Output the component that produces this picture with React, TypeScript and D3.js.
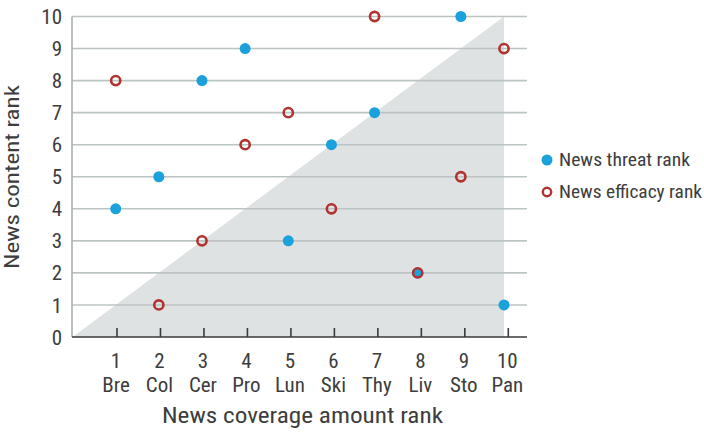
import React from "react";
import * as d3 from "d3";

const categories = ["Bre", "Col", "Cer", "Pro", "Lun", "Ski", "Thy", "Liv", "Sto", "Pan"];
const coverageRank = [1, 2, 3, 4, 5, 6, 7, 8, 9, 10];
const threatRank = [4, 5, 8, 9, 3, 6, 7, 2, 10, 1];
const efficacyRank = [8, 1, 3, 6, 7, 4, 10, 2, 5, 9];
const yTicks = [0, 1, 2, 3, 4, 5, 6, 7, 8, 9, 10];
const legendLabels = ["News threat rank", "News efficacy rank"];

const FONT = "'Roboto Condensed', 'Liberation Sans Narrow', 'Arial Narrow', Roboto, sans-serif";
const BLUE = "#1ba1dc";
const RED = "#b0332f";
const TEXT = "#3d3d3d";

export default function App() {
  const W = 704, H = 445;
  const y = d3.scaleLinear().domain([0, 10]).range([337, 16.5]);
  const tickX = d3.scaleLinear().domain([1, 10]).range([117, 508.3]);
  const px = d3.scaleLinear().domain([1, 10]).range([115.7, 504]);
  const left = 72, right = 527;

  const tri = d3.line<[number, number]>()
    .x((d) => px(d[0]))
    .y((d) => y(d[1]));
  const triPath = tri([[0, 0], [10, 10], [10, 0]]) + "Z";

  return (
    <svg width={W} height={H} style={{ position: "absolute", left: 0, top: 0, background: "#fff" }} fontFamily={FONT}>
      <path d={triPath} fill="#dfe2e2" />
      {yTicks.filter((t) => t > 0).map((t) => (
        <line key={"g" + t} x1={left} x2={right} y1={y(t)} y2={y(t)} stroke="#bcc3c3" strokeWidth={1.6} />
      ))}
      <line x1={left} x2={left} y1={y(10)} y2={y(0)} stroke="#a9b0b0" strokeWidth={1.6} />
      <line x1={left} x2={right} y1={y(0)} y2={y(0)} stroke="#3a3a3a" strokeWidth={1.6} />
      {coverageRank.map((c) => (
        <line key={"t" + c} x1={tickX(c)} x2={tickX(c)} y1={y(0)} y2={y(0) - 9} stroke="#3a3a3a" strokeWidth={1.6} />
      ))}
      {yTicks.map((t) => (
        <text key={"yl" + t} x={62} y={y(t)} dy="0.36em" textAnchor="end" fontSize={21} fill={TEXT}>{t}</text>
      ))}
      {coverageRank.map((c, i) => (
        <g key={"xl" + c}>
          <text x={tickX(c) - 1} y={368} textAnchor="middle" fontSize={21} fill={TEXT}>{c}</text>
          <text x={tickX(c) - 1} y={392} textAnchor="middle" fontSize={21} fill={TEXT}>{categories[i]}</text>
        </g>
      ))}
      <text x={162} y={423} fontSize={22} fill={TEXT} textLength={281} lengthAdjust="spacingAndGlyphs">News coverage amount rank</text>
      <text transform={`translate(19,269) rotate(-90)`} fontSize={21} fill={TEXT} textLength={184} lengthAdjust="spacingAndGlyphs">News content rank</text>

      {coverageRank.map((c, i) => (
        <circle key={"b" + c} cx={px(c)} cy={y(threatRank[i])} r={5.5} fill={BLUE} />
      ))}
      {coverageRank.map((c, i) => (
        <circle key={"r" + c} cx={px(c)} cy={y(efficacyRank[i])} r={4.6} fill="none" stroke={RED} strokeWidth={2.6} />
      ))}

      <circle cx={547} cy={160} r={5.5} fill={BLUE} />
      <text x={559} y={160} dy="0.36em" fontSize={18} fill={TEXT} textLength={131} lengthAdjust="spacingAndGlyphs">{legendLabels[0]}</text>
      <circle cx={547} cy={192} r={4.2} fill="none" stroke={RED} strokeWidth={2.4} />
      <text x={559} y={192} dy="0.36em" fontSize={18} fill={TEXT} textLength={143} lengthAdjust="spacingAndGlyphs">{legendLabels[1]}</text>
    </svg>
  );
}
